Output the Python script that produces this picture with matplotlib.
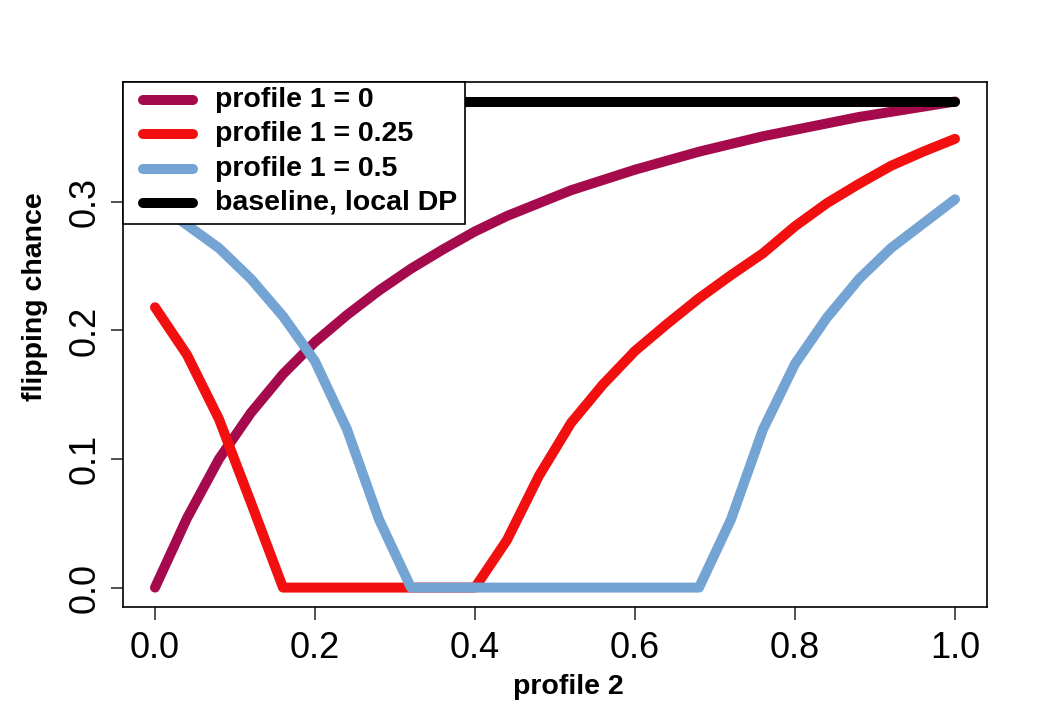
import numpy as np
import matplotlib
matplotlib.use("Agg")
import matplotlib.pyplot as plt
from matplotlib.patches import Rectangle
from matplotlib.lines import Line2D

profile2 = [0.00, 0.04, 0.08, 0.12, 0.16, 0.20, 0.24, 0.28, 0.32, 0.36, 0.40, 0.44, 0.48,
            0.52, 0.56, 0.60, 0.64, 0.68, 0.72, 0.76, 0.80, 0.84, 0.88, 0.92, 0.96, 1.00]

flip_p1_0 = [0.000, 0.054, 0.100, 0.136, 0.166, 0.191, 0.212, 0.231, 0.248, 0.263, 0.277,
             0.289, 0.299, 0.309, 0.317, 0.325, 0.332, 0.339, 0.345, 0.351, 0.356, 0.361,
             0.366, 0.370, 0.374, 0.378]
flip_p1_025 = [0.218, 0.181, 0.131, 0.066, 0.000, 0.000, 0.000, 0.000, 0.000, 0.000, 0.000,
               0.037, 0.087, 0.128, 0.158, 0.184, 0.205, 0.225, 0.243, 0.260, 0.281, 0.299,
               0.314, 0.328, 0.339, 0.349]
flip_p1_05 = [0.300, 0.282, 0.264, 0.240, 0.211, 0.176, 0.123, 0.053, 0.000, 0.000, 0.000,
              0.000, 0.000, 0.000, 0.000, 0.000, 0.000, 0.000, 0.053, 0.123, 0.174, 0.210,
              0.240, 0.264, 0.283, 0.302]
baseline = [0.378] * len(profile2)

labels = ["profile 1 = 0", "profile 1 = 0.25", "profile 1 = 0.5", "baseline, local DP"]
colors = ["#A50A4D", "#F20F0F", "#74A4D3", "#000000"]

xticks = [0.0, 0.2, 0.4, 0.6, 0.8, 1.0]
yticks = [0.0, 0.1, 0.2, 0.3]

plt.rcParams["font.family"] = ["Liberation Sans", "DejaVu Sans"]

fig = plt.figure(figsize=(10.49, 7.20), dpi=100)
ax = fig.add_axes([123/1049, 1 - 607/720, (987-123)/1049, (607-82)/720])

series = [flip_p1_0, flip_p1_025, flip_p1_05, baseline]
for ys, c, lab in zip(series, colors, labels):
    ax.plot(profile2, ys, color=c, lw=7.2, solid_capstyle="round",
            solid_joinstyle="round", label=lab, zorder=2)

ax.set_xlim(-0.04, 1.04)
ax.set_ylim(-0.0151, 0.3932)
ax.set_xticks(xticks)
ax.set_xticklabels([f"{v:.1f}" for v in xticks])
ax.set_yticks(yticks)
ax.set_yticklabels([f"{v:.1f}" for v in yticks], rotation=90, va="center")
ax.tick_params(axis="both", labelsize=26, length=9, width=1.2, color="#333333")
ax.tick_params(axis="x", pad=8)
ax.tick_params(axis="y", pad=6)
for s in ax.spines.values():
    s.set_linewidth(1.2)

ax.set_xlabel("profile 2", fontsize=20.5, fontweight="bold")
ax.xaxis.set_label_coords(0.515, -0.128)
ax.set_ylabel("flipping chance", fontsize=20.5, fontweight="bold")
ax.yaxis.set_label_coords(-0.087, 0.592)

# legend (manual, to match layout of the reference)
box_w = (465 - 123) / 864
box_h = (607 - 224) / 525
ax.add_patch(Rectangle((0, 1 - (1 - box_h)), 0, 0, visible=False))
ax.add_patch(Rectangle((0, box_h), box_w, 1 - box_h, transform=ax.transAxes,
                       facecolor="white", edgecolor="black", lw=1.2, zorder=5,
                       clip_on=False))
row_y = [(607 - py) / 525 for py in (100, 134, 169, 203)]
hx0, hx1, tx = (143 - 123) / 864, (193 - 123) / 864, (215 - 123) / 864
for yy, c, lab in zip(row_y, colors, labels):
    ax.add_line(Line2D([hx0, hx1], [yy, yy], transform=ax.transAxes, color=c,
                       lw=7.2, solid_capstyle="round", zorder=6))
    ax.text(tx, yy, lab, transform=ax.transAxes, fontsize=20.5, fontweight="bold",
            va="center", ha="left", zorder=6)

fig.savefig("out.png", dpi=100)
